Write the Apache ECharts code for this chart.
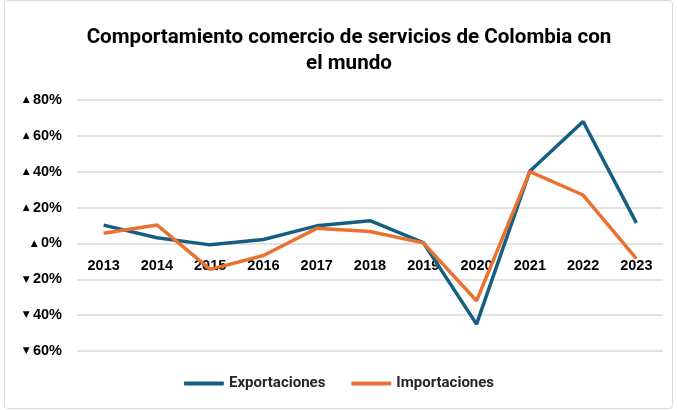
<!DOCTYPE html>
<html><head><meta charset="utf-8">
<script src="https://cdn.jsdelivr.net/npm/echarts@6/dist/echarts.min.js"></script>
<style>html,body{margin:0;padding:0;background:#fff}#c{width:678px;height:410px}</style>
</head><body><div id="c"></div>
<script>
var years = ['2013','2014','2015','2016','2017','2018','2019','2020','2021','2022','2023'];
var exportaciones = [10.2, 3.2, -0.8, 2.2, 9.8, 12.7, 0.5, -45, 40.3, 68, 11.5];
var importaciones = [5.7, 10.3, -14.5, -6.7, 8.4, 6.7, 0.3, -32, 40, 27, -8.5];
var yTicks = [-60, -40, -20, 0, 20, 40, 60, 80];

var chart = echarts.init(document.getElementById('c'));
chart.setOption({
  animation: false,
  graphic: [{type:'rect', shape:{x:4.5,y:0.5,width:668,height:408,r:3}, style:{fill:'none', stroke:'#d9d9d9', lineWidth:1}}],
  title: {
    text: 'Comportamiento comercio de servicios de Colombia con\nel mundo',
    left: 344, top: 20, textAlign: 'center',
    textStyle: {fontFamily:'Roboto', fontWeight:'bold', fontSize:20.6, color:'#000', lineHeight:26}
  },
  legend: {
    bottom: 14, left: 'center', itemWidth: 40, itemHeight: 4, itemGap: 26,
    icon: 'roundRect',
    textStyle: {fontFamily:'Roboto', fontWeight:'bold', fontSize:15, color:'#262626'},
    data: ['Exportaciones','Importaciones']
  },
  grid: {left: 77, right: 15, top: 100, bottom: 59},
  xAxis: {
    type: 'category', data: years, boundaryGap: true,
    offset: -108,
    axisLine: {show:false, onZero:false},
    axisTick: {show:false},
    axisLabel: {fontFamily:'Liberation Sans', fontWeight:'bold', fontSize:14.5, color:'#000', margin:15},
    splitLine: {show:false}
  },
  yAxis: {
    type: 'value', min: -60, max: 80, interval: 20,
    axisLine: {show:false}, axisTick: {show:false},
    splitLine: {lineStyle:{color:'#d9d9d9', width:1.5}},
    axisLabel: {
      margin: 15,
      formatter: function(v){
        if (yTicks.indexOf(v) < 0) return '';
        return (v < 0 ? '{t|▼}' : '{t|▲}') + ' {n|' + Math.abs(v) + '%}';
      },
      rich: {
        t: {fontSize:9, color:'#000', fontFamily:'DejaVu Sans'},
        n: {fontFamily:'Liberation Sans', fontWeight:'bold', fontSize:14.5, color:'#000'}
      }
    }
  },
  series: [
    {name:'Exportaciones', type:'line', data: exportaciones, symbol:'none', lineStyle:{color:'#156082', width:3.5}, itemStyle:{color:'#156082'}},
    {name:'Importaciones', type:'line', data: importaciones, symbol:'none', lineStyle:{color:'#E97132', width:3.5}, itemStyle:{color:'#E97132'}}
  ]
});
</script></body></html>
